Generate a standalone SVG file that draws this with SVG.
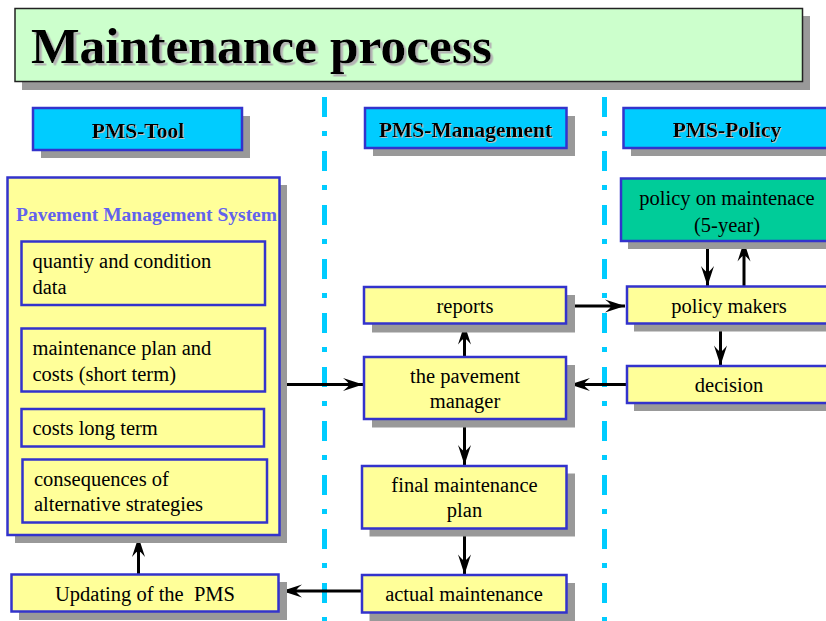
<svg xmlns="http://www.w3.org/2000/svg" width="826" height="621" viewBox="0 0 826 621">
  <defs>
    <style>
      .shadow { fill: #999999; }
      .box { fill: #ffff99; stroke: #3333cc; stroke-width: 2.5; }
      .sub { fill: #ffff99; stroke: #3333cc; stroke-width: 2.5; }
      .head { fill: #00ccff; stroke: #3333cc; stroke-width: 2.5; }
      .policy { fill: #00cc99; stroke: #3333cc; stroke-width: 2.5; }
      .title-box { fill: #ccffcc; stroke: #222222; stroke-width: 1.5; }
      .t { font-family: "Liberation Serif", "Times New Roman", serif; font-size: 20.5px; fill: #000000; }
      .c { text-anchor: middle; }
      .h { font-family: "Liberation Serif", "Times New Roman", serif; font-size: 21.5px; font-weight: bold; fill: #000000; text-anchor: middle; filter: url(#txtShadowSmall); }
      .title { font-family: "Liberation Serif", "Times New Roman", serif; font-size: 51.5px; font-weight: bold; fill: #000000; filter: url(#txtShadow); }
      .pms { font-family: "Liberation Serif", "Times New Roman", serif; font-size: 19.5px; font-weight: bold; fill: #6262ee; }
      .lane { stroke: #00ccff; stroke-width: 5; stroke-dasharray: 20 14 5 15; fill: none; }
      .arrow { stroke: #000000; stroke-width: 3; fill: none; marker-end: url(#head); }
    </style>
    <filter id="txtShadow" x="-5%" y="-20%" width="115%" height="150%">
      <feDropShadow dx="2.5" dy="2.5" stdDeviation="0.4" flood-color="#b4b4b4" flood-opacity="1"/>
    </filter>
    <filter id="txtShadowSmall" x="-5%" y="-20%" width="115%" height="150%">
      <feDropShadow dx="1" dy="1" stdDeviation="0.3" flood-color="#c0c0c0" flood-opacity="1"/>
    </filter>
    <!-- long barbed arrowhead with a curved notch at the back -->
    <marker id="head" viewBox="-22 -8 23 16" refX="0" refY="0" markerWidth="23" markerHeight="16" markerUnits="userSpaceOnUse" orient="auto">
      <path d="M0,0 L-20,-6.5 Q-14,-1.8 -14,0 Q-14,1.8 -20,6.5 Z" fill="#000000"/>
    </marker>
  </defs>

  <rect width="826" height="621" fill="#ffffff"/>

  <!-- title banner -->
  <g id="title">
    <rect class="shadow" x="22" y="16" width="788" height="74"/>
    <rect class="title-box" x="15" y="8.5" width="787.5" height="73"/>
    <text class="title" x="31" y="63">Maintenance process</text>
  </g>

  <!-- lane separators -->
  <g id="lanes">
    <line class="lane" x1="324.5" y1="97" x2="324.5" y2="621"/>
    <line class="lane" x1="604.5" y1="97" x2="604.5" y2="621"/>
  </g>

  <!-- lane headers -->
  <g id="hdr-tool">
    <rect class="shadow" x="41" y="116" width="209" height="42"/>
    <rect class="head" x="33" y="108" width="209" height="42"/>
    <text class="h" x="138" y="138">PMS-Tool</text>
  </g>
  <g id="hdr-management">
    <rect class="shadow" x="373" y="116" width="202" height="40"/>
    <rect class="head" x="365" y="108" width="201.5" height="40"/>
    <text class="h" x="465.5" y="137">PMS-Management</text>
  </g>
  <g id="hdr-policy">
    <rect class="shadow" x="631" y="116" width="210" height="40"/>
    <rect class="head" x="623.5" y="108" width="210" height="40"/>
    <text class="h" x="727" y="137">PMS-Policy</text>
  </g>

  <!-- connectors -->
  <g id="connectors">
    <line class="arrow" x1="138.5" y1="574" x2="138.5" y2="537"/>
    <line class="arrow" x1="362" y1="591" x2="282" y2="591"/>
    <line class="arrow" x1="287" y1="384.5" x2="363" y2="384.5"/>
    <line class="arrow" x1="464.5" y1="357" x2="464.5" y2="324.5"/>
    <line class="arrow" x1="464.5" y1="419" x2="464.5" y2="465"/>
    <line class="arrow" x1="464.5" y1="528.5" x2="464.5" y2="574.5"/>
    <line class="arrow" x1="574" y1="306" x2="625" y2="306"/>
    <line class="arrow" x1="627" y1="384.5" x2="570" y2="384.5"/>
    <line class="arrow" x1="707.5" y1="246" x2="707.5" y2="286"/>
    <line class="arrow" x1="744" y1="286" x2="744" y2="241.5"/>
    <line class="arrow" x1="720.5" y1="323.5" x2="720.5" y2="365.5"/>
  </g>

  <!-- PMS tool column -->
  <g id="pms-system">
    <rect class="shadow" x="15" y="185" width="272" height="358"/>
    <rect class="box" x="7.5" y="177.5" width="272" height="357.5"/>
    <text class="pms" x="16" y="221">Pavement Management System</text>
  </g>
  <g id="quantity-data">
    <rect class="sub" x="21.5" y="241.5" width="243.5" height="63.5"/>
    <text class="t" x="32.5" y="267.5">quantiy and condition</text>
    <text class="t" x="32.5" y="293.5">data</text>
  </g>
  <g id="plan-short">
    <rect class="sub" x="21.5" y="328.5" width="243.5" height="63"/>
    <text class="t" x="32.5" y="355">maintenance plan and</text>
    <text class="t" x="32.5" y="381">costs (short term)</text>
  </g>
  <g id="costs-long">
    <rect class="sub" x="21.5" y="409" width="242.5" height="37.5"/>
    <text class="t" x="32.5" y="435">costs long term</text>
  </g>
  <g id="consequences">
    <rect class="sub" x="22.5" y="459.5" width="244.5" height="63"/>
    <text class="t" x="34" y="485.5">consequences of</text>
    <text class="t" x="34" y="510.5">alternative strategies</text>
  </g>
  <g id="updating">
    <rect class="shadow" x="19" y="582" width="268" height="38"/>
    <rect class="box" x="11.5" y="574.5" width="267" height="37"/>
    <text class="t c" x="145" y="601" xml:space="preserve">Updating of the  PMS</text>
  </g>

  <!-- management column -->
  <g id="reports">
    <rect class="shadow" x="372" y="295" width="203" height="37.5"/>
    <rect class="box" x="364" y="287" width="202" height="36.5"/>
    <text class="t c" x="465" y="313">reports</text>
  </g>
  <g id="pavement-manager">
    <rect class="shadow" x="372" y="365" width="203" height="62.5"/>
    <rect class="box" x="364" y="357" width="202" height="62"/>
    <text class="t c" x="465" y="383">the pavement</text>
    <text class="t c" x="465" y="407.5">manager</text>
  </g>
  <g id="final-plan">
    <rect class="shadow" x="369.5" y="473.5" width="205.5" height="63"/>
    <rect class="box" x="362" y="466" width="204.5" height="62.5"/>
    <text class="t c" x="464.5" y="492">final maintenance</text>
    <text class="t c" x="464.5" y="517">plan</text>
  </g>
  <g id="actual-maintenance">
    <rect class="shadow" x="369.5" y="583" width="205.5" height="38"/>
    <rect class="box" x="362" y="575" width="204.5" height="37.5"/>
    <text class="t c" x="464" y="601">actual maintenance</text>
  </g>

  <!-- policy column -->
  <g id="policy-5year">
    <rect class="shadow" x="628" y="186" width="210" height="63"/>
    <rect class="policy" x="621" y="178.5" width="210" height="62.5"/>
    <text class="t c" x="727" y="205">policy on maintenace</text>
    <text class="t c" x="727" y="231.5">(5-year)</text>
  </g>
  <g id="policy-makers">
    <rect class="shadow" x="634" y="294" width="210" height="37.5"/>
    <rect class="box" x="627" y="286.5" width="210" height="37"/>
    <text class="t c" x="729" y="313">policy makers</text>
  </g>
  <g id="decision">
    <rect class="shadow" x="634" y="373.5" width="210" height="37.5"/>
    <rect class="box" x="627" y="366" width="210" height="37"/>
    <text class="t c" x="729" y="392">decision</text>
  </g>
</svg>
